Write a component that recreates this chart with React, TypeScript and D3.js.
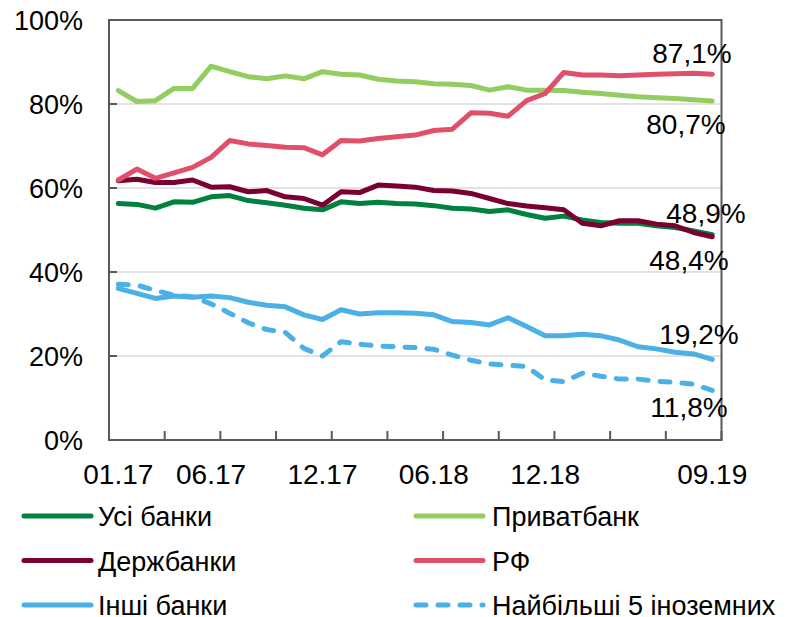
import React, { useEffect, useRef } from "react";
import * as d3 from "d3";

const months = [
  "01.17", "02.17", "03.17", "04.17", "05.17", "06.17", "07.17", "08.17", "09.17", "10.17", "11.17", "12.17",
  "01.18", "02.18", "03.18", "04.18", "05.18", "06.18", "07.18", "08.18", "09.18", "10.18", "11.18", "12.18",
  "01.19", "02.19", "03.19", "04.19", "05.19", "06.19", "07.19", "08.19", "09.19",
];
const tickLabels = ["01.17", "06.17", "12.17", "06.18", "12.18", "09.19"];
const yTicks = [0, 20, 40, 60, 80, 100];

const allBanks = [56.3, 56.1, 55.2, 56.7, 56.6, 57.9, 58.2, 57.0, 56.5, 55.9, 55.2, 54.8, 56.7, 56.3, 56.6, 56.3, 56.2,
  55.8, 55.2, 55.0, 54.4, 54.8, 53.7, 52.8, 53.3, 52.4, 51.8, 51.6, 51.6, 51.0, 50.6, 49.8, 48.9];
const privat = [83.2, 80.6, 80.8, 83.7, 83.7, 89.0, 87.7, 86.5, 86.0, 86.7, 86.0, 87.7, 87.1, 86.9, 85.9, 85.5, 85.3,
  84.8, 84.7, 84.4, 83.3, 84.1, 83.3, 83.3, 83.2, 82.8, 82.5, 82.1, 81.7, 81.5, 81.3, 81.0, 80.7];
const stateBanks = [61.7, 62.1, 61.3, 61.3, 61.9, 60.2, 60.3, 59.1, 59.4, 57.9, 57.5, 55.9, 59.1, 58.9, 60.7, 60.5, 60.2,
  59.4, 59.3, 58.7, 57.5, 56.3, 55.7, 55.3, 54.8, 51.6, 51.0, 52.2, 52.2, 51.4, 51.0, 49.4, 48.4];
const rf = [61.9, 64.5, 62.3, 63.6, 64.9, 67.3, 71.3, 70.5, 70.1, 69.7, 69.6, 67.9, 71.3, 71.2, 71.8, 72.2, 72.6,
  73.7, 74.0, 77.9, 77.8, 77.1, 80.8, 82.5, 87.5, 86.9, 86.9, 86.7, 86.9, 87.1, 87.2, 87.3, 87.1];
const otherBanks = [36.1, 34.9, 33.7, 34.3, 34.0, 34.3, 33.9, 32.8, 32.1, 31.7, 29.8, 28.7, 31.0, 30.0, 30.3, 30.3, 30.2,
  29.8, 28.2, 28.0, 27.4, 29.1, 27.0, 24.8, 24.8, 25.2, 24.8, 23.8, 22.2, 21.7, 20.9, 20.5, 19.2];
const top5Foreign = [37.1, 36.9, 35.6, 34.5, 34.1, 32.4, 30.2, 27.9, 26.3, 25.6, 21.8, 20.0, 23.4, 22.8, 22.4, 22.2, 22.0,
  21.6, 20.2, 19.0, 18.1, 17.8, 17.5, 14.3, 13.9, 15.9, 15.2, 14.5, 14.5, 14.0, 13.7, 13.3, 11.8];

const series = [
  { name: "Усі банки", values: allBanks, color: "#00813f", dashed: false, label: "48,9%", lx: 706, ly: 223 },
  { name: "Приватбанк", values: privat, color: "#92cd5f", dashed: false, label: "80,7%", lx: 686, ly: 134 },
  { name: "Держбанки", values: stateBanks, color: "#7b0032", dashed: false, label: "48,4%", lx: 689, ly: 270 },
  { name: "РФ", values: rf, color: "#e0506a", dashed: false, label: "87,1%", lx: 692, ly: 63 },
  { name: "Інші банки", values: otherBanks, color: "#4bb0e6", dashed: false, label: "19,2%", lx: 699, ly: 344 },
  { name: "Найбільші 5 іноземних", values: top5Foreign, color: "#4bb0e6", dashed: true, label: "11,8%", lx: 689, ly: 417 },
];

const FONT = "'Liberation Sans', Arial, sans-serif";

export default function App() {
  const ref = useRef<SVGSVGElement>(null);

  useEffect(() => {
    const svg = d3.select(ref.current);
    svg.selectAll("*").remove();

    const left = 109, right = 721.5, top = 20, bottom = 440;
    const x = d3.scaleBand().domain(months).range([left, right]).padding(0);
    const y = d3.scaleLinear().domain([0, 100]).range([bottom, top]);
    const cx = (m: string) => (x(m) as number) + x.bandwidth() / 2;

    // gridlines
    svg.append("g").selectAll("line")
      .data(yTicks.filter(t => t > 0 && t < 100))
      .join("line")
      .attr("x1", left).attr("x2", right)
      .attr("y1", d => y(d)).attr("y2", d => y(d))
      .attr("stroke", "#d9d9d9").attr("stroke-width", 1.5);

    // y tick labels
    svg.append("g").selectAll("text")
      .data(yTicks)
      .join("text")
      .attr("x", 83).attr("y", d => y(d) + 10)
      .attr("text-anchor", "end")
      .style("font-family", FONT).style("font-size", "27px").attr("fill", "#000")
      .text(d => d + "%");

    // x tick labels
    svg.append("g").selectAll("text")
      .data(tickLabels)
      .join("text")
      .attr("x", d => cx(d)).attr("y", 484)
      .attr("text-anchor", "middle")
      .style("font-family", FONT).style("font-size", "28px").attr("fill", "#000")
      .text(d => d);

    // lines
    const line = d3.line<number>()
      .x((d, i) => cx(months[i]))
      .y(d => y(d));

    svg.append("g").selectAll("path")
      .data(series)
      .join("path")
      .attr("d", d => line(d.values))
      .attr("fill", "none")
      .attr("stroke", d => d.color)
      .attr("stroke-width", 5)
      .attr("stroke-linejoin", "round")
      .attr("stroke-linecap", "round")
      .attr("stroke-dasharray", d => d.dashed ? "10 12" : null);

    // frame and ticks
    const axis = svg.append("g").attr("stroke", "#595959").attr("stroke-width", 2);
    axis.append("rect")
      .attr("x", left).attr("y", top)
      .attr("width", right - left).attr("height", bottom - top)
      .attr("fill", "none");
    axis.selectAll(".ytick").data(yTicks).join("line").attr("class", "ytick")
      .attr("x1", left).attr("x2", left + 8)
      .attr("y1", d => y(d)).attr("y2", d => y(d));
    const xTickPos = d3.range(0, months.length + 1, 3).map(i => left + i * x.step());
    axis.selectAll(".xtick").data(xTickPos).join("line").attr("class", "xtick")
      .attr("x1", d => d).attr("x2", d => d)
      .attr("y1", bottom).attr("y2", bottom - 9);

    // end labels
    svg.append("g").selectAll("text")
      .data(series)
      .join("text")
      .attr("x", d => d.lx).attr("y", d => d.ly)
      .attr("text-anchor", "middle")
      .style("font-family", FONT).style("font-size", "28px").attr("fill", "#000")
      .text(d => d.label);

    // legend
    const legend = svg.append("g").selectAll("g")
      .data(series)
      .join("g")
      .attr("transform", (d, i) => `translate(${i % 2 === 0 ? 22 : 414}, ${516 + Math.floor(i / 2) * 44.5})`);
    legend.append("line")
      .attr("x1", 2).attr("x2", 69).attr("y1", 0).attr("y2", 0)
      .attr("stroke", d => d.color).attr("stroke-width", 5)
      .attr("stroke-linecap", "round")
      .attr("stroke-dasharray", d => d.dashed ? "10 12" : null);
    legend.append("text")
      .attr("x", (d, i) => i % 2 === 0 ? 76 : 78).attr("y", 10)
      .style("font-family", FONT).style("font-size", "27px").attr("fill", "#000")
      .text(d => d.name);
  }, []);

  return (
    <svg ref={ref} width={787} height={617}
      style={{ position: "absolute", left: 0, top: 0, background: "#fff" }} />
  );
}
